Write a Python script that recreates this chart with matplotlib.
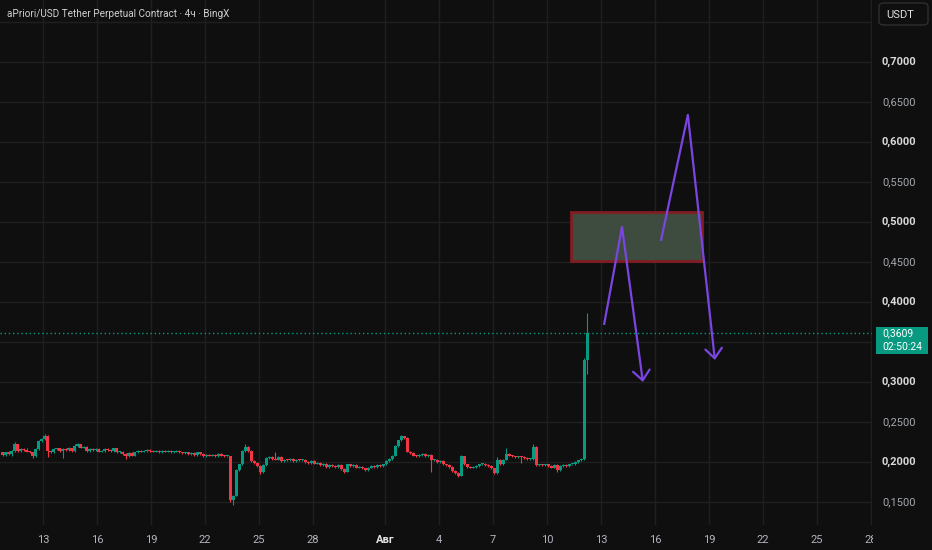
import numpy as np
import matplotlib
matplotlib.use('Agg')
import matplotlib.pyplot as plt
from matplotlib.patches import Rectangle, FancyBboxPatch

plt.rcParams['font.family'] = ['Roboto', 'DejaVu Sans']

# 4h candles, time in "July day numbers" (Aug 1 = 32)
start_day = 10.75
candle_step = 1 / 6
first_open = 0.212

closes = [
    0.209, 0.212, 0.210, 0.214, 0.222, 0.214, 0.216, 0.215, 0.213, 0.212,
    0.207, 0.216, 0.226, 0.229, 0.233, 0.214, 0.212, 0.216, 0.217, 0.214,
    0.216, 0.215, 0.217, 0.214, 0.220, 0.222, 0.218, 0.219, 0.214, 0.216,
    0.215, 0.216, 0.213, 0.214, 0.216, 0.215, 0.214, 0.217, 0.212, 0.213,
    0.210, 0.207, 0.211, 0.208, 0.212, 0.214, 0.213, 0.214, 0.215, 0.214,
    0.213, 0.214, 0.212, 0.214, 0.213, 0.214, 0.212, 0.213, 0.214, 0.212,
    0.211, 0.212, 0.210, 0.211, 0.209, 0.212, 0.210, 0.207, 0.209, 0.208,
    0.209, 0.207, 0.210, 0.208, 0.207, 0.207, 0.153, 0.158, 0.190, 0.197,
    0.214, 0.219, 0.214, 0.201, 0.199, 0.195, 0.187, 0.196, 0.205, 0.206,
    0.204, 0.203, 0.206, 0.201, 0.203, 0.202, 0.204, 0.201, 0.203, 0.202,
    0.203, 0.200, 0.199, 0.201, 0.198, 0.199, 0.196, 0.198, 0.194, 0.196,
    0.195, 0.194, 0.196, 0.191, 0.188, 0.197, 0.195, 0.196, 0.193, 0.194,
    0.192, 0.190, 0.193, 0.195, 0.194, 0.196, 0.195, 0.197, 0.201, 0.204,
    0.208, 0.220, 0.227, 0.232, 0.230, 0.213, 0.211, 0.208, 0.207, 0.209,
    0.210, 0.207, 0.209, 0.202, 0.203, 0.200, 0.201, 0.197, 0.196, 0.194,
    0.189, 0.186, 0.183, 0.207, 0.197, 0.194, 0.193, 0.194, 0.195, 0.197,
    0.198, 0.196, 0.195, 0.192, 0.186, 0.203, 0.197, 0.203, 0.210, 0.208,
    0.207, 0.206, 0.207, 0.206, 0.205, 0.204, 0.204, 0.219, 0.196, 0.197,
    0.196, 0.197, 0.195, 0.193, 0.196, 0.190, 0.195, 0.196, 0.195, 0.197,
    0.197, 0.200, 0.202, 0.204, 0.328, 0.3609,
]

# wick lengths beyond the body, in thousandths
wick_up = [
    1, 1, 2, 1, 3, 1, 1, 1, 2, 1,  1, 2, 1, 1, 2, 1, 1, 2, 1, 1,
    1, 1, 2, 1, 2, 2, 1, 1, 1, 1,  1, 1, 1, 1, 2, 1, 1, 1, 1, 1,
    1, 1, 1, 1, 1, 1, 1, 1, 1, 1,  1, 1, 1, 1, 1, 1, 1, 1, 1, 1,
    1, 1, 1, 1, 1, 1, 1, 1, 1, 1,  1, 1, 1, 1, 1, 1, 1, 1, 1, 1,
    1, 4, 1, 1, 1, 1, 1, 1, 1, 1,  1, 8, 1, 1, 1, 1, 1, 1, 1, 1,
    1, 1, 1, 1, 1, 1, 1, 1, 1, 1,  1, 1, 1, 1, 1, 1, 1, 1, 1, 1,
    1, 1, 1, 1, 1, 1, 1, 1, 1, 1,  1, 1, 1, 2, 1, 1, 1, 1, 1, 1,
    1, 1, 1, 1, 1, 1, 1, 1, 1, 1,  1, 1, 1, 2, 1, 1, 1, 1, 1, 1,
    1, 1, 1, 1, 1, 3, 1, 1, 8, 1,  1, 1, 1, 1, 1, 1, 1, 3, 1, 1,
    1, 1, 1, 1, 1, 1, 1, 1, 1, 1,  1, 1, 1, 1, 2, 25,
]
wick_dn = [
    1, 1, 1, 2, 1, 1, 1, 1, 1, 1,  2, 1, 1, 1, 1, 8, 1, 1, 1, 1,
    9, 1, 1, 1, 1, 1, 1, 1, 1, 1,  1, 1, 1, 1, 1, 1, 1, 1, 1, 1,
    1, 3, 1, 1, 1, 1, 1, 1, 1, 1,  1, 1, 1, 1, 1, 1, 1, 1, 1, 1,
    1, 1, 1, 1, 1, 1, 1, 1, 1, 1,  1, 1, 1, 1, 1, 1, 3, 7, 1, 1,
    1, 1, 1, 1, 1, 1, 2, 1, 1, 1,  1, 1, 1, 1, 1, 1, 1, 1, 1, 1,
    1, 1, 1, 1, 1, 1, 1, 1, 1, 1,  1, 1, 1, 1, 2, 1, 1, 1, 1, 1,
    1, 1, 1, 1, 1, 1, 1, 1, 1, 1,  1, 1, 1, 1, 1, 1, 1, 1, 1, 1,
    1, 1, 1, 15, 1, 1, 1, 1, 1, 1,  1, 1, 2, 1, 1, 1, 1, 1, 1, 1,
    1, 1, 1, 1, 1, 1, 1, 1, 1, 1,  1, 1, 1, 7, 1, 1, 1, 1, 1, 1,
    1, 1, 1, 1, 1, 2, 1, 1, 1, 1,  1, 1, 1, 1, 1, 18,
]

last_price = 0.3609
countdown = '02:50:24'

# drawings
zone_days = [42.33, 49.61]
zone_prices = [0.4513, 0.5125]
path1_days = [44.17, 45.17, 46.33]
path1_prices = [0.3713, 0.4938, 0.300]
path2_days = [47.33, 48.83, 50.33]
path2_prices = [0.4763, 0.6338, 0.3275]

xtick_days = [13, 16, 19, 22, 25, 28, 32, 35, 38, 41, 44, 47, 50, 53, 56, 59]
xtick_labels = ['13', '16', '19', '22', '25', '28', 'Авг', '4', '7', '10',
                '13', '16', '19', '22', '25', '28']
price_ticks = [0.15, 0.20, 0.25, 0.30, 0.35, 0.40, 0.45, 0.50, 0.55,
               0.60, 0.65, 0.70, 0.75]

BG = '#0f0f0f'
GRID = '#1f1f1f'
UP = '#089981'
DOWN = '#f23645'
PURPLE = '#7a45e0'

closes = np.array(closes)
opens = np.r_[first_open, closes[:-1]]
highs = np.maximum(opens, closes) + np.array(wick_up) / 1000
lows = np.minimum(opens, closes) - np.array(wick_dn) / 1000
t = start_day + np.arange(len(closes)) * candle_step
up = closes >= opens
colors = np.where(up, UP, DOWN)

fig = plt.figure(figsize=(9.32, 5.5), dpi=100, facecolor=BG)
W, H = 932, 550
ax = fig.add_axes([0, 25 / H, 872 / W, 525 / H])
ax.set_facecolor(BG)

ax.set_xlim(10.61, 59.06)
ax.set_ylim(0.12125, 0.7775)

for p in price_ticks:
    ax.axhline(p, color=GRID, lw=1, zorder=0)
for d in xtick_days:
    ax.axvline(d, color=GRID, lw=1, zorder=0)

# candles
ax.vlines(t, lows, highs, colors=colors, lw=0.8, zorder=2)
body = np.maximum(np.abs(closes - opens), 0.0012)
ax.bar(t, body, bottom=np.minimum(opens, closes), width=0.13,
       color=colors, lw=0, zorder=3)

# last price line
ax.axhline(last_price, color=UP, lw=1, ls=(0, (1, 2)), zorder=1)

# zone
ax.add_patch(Rectangle((zone_days[0], zone_prices[0]),
                       zone_days[1] - zone_days[0],
                       zone_prices[1] - zone_prices[0],
                       facecolor='#3d4c3e', edgecolor='#821c24', lw=2, zorder=4))

# arrows
for xs, ys in [(path1_days, path1_prices), (path2_days, path2_prices)]:
    ax.plot(xs[:2], ys[:2], color=PURPLE, lw=1.6, zorder=5,
            solid_capstyle='butt')
    ax.annotate('', xy=(xs[2], ys[2]), xytext=(xs[1], ys[1]),
                arrowprops=dict(arrowstyle='->,head_length=0.7,head_width=0.6',
                                color=PURPLE, lw=1.6, shrinkA=0, shrinkB=0),
                zorder=5)

ax.set_xticks(xtick_days)
ax.set_xticklabels(xtick_labels)
ax.set_yticks([])
ax.tick_params(axis='x', length=0, pad=7, labelsize=8, colors='#b2b5be')
for lbl in ax.get_xticklabels():
    if lbl.get_text() == 'Авг':
        lbl.set_color('#e6e6e6')
        lbl.set_fontweight('bold')
for s in ax.spines.values():
    s.set_visible(False)

# right price scale panel
fig.add_artist(Rectangle((873 / W, 0), 1 - 873 / W, 1, transform=fig.transFigure,
                         facecolor=BG, edgecolor='none', zorder=5))


def fy(price):
    pix = 525 - (price - 0.12125) / (0.7775 - 0.12125) * 525
    return 1 - pix / H


tag_lo, tag_hi = fy(last_price) - 0.03, fy(last_price) + 0.03
for p in price_ticks[:-1]:
    if tag_lo < fy(p) < tag_hi:
        continue  # hidden under the last-price tag
    major = abs(round(p * 10) - p * 10) < 1e-6
    fig.text(882 / W, fy(p), f'{p:.4f}'.replace('.', ','), fontsize=8,
             color='#d9d9d9' if major else '#a3a6ad',
             fontweight='bold' if major else 'normal',
             va='center', ha='left', zorder=6)

fig.add_artist(FancyBboxPatch((879 / W, 1 - 25 / H), 49 / W, 22 / H,
                              boxstyle='round,pad=0,rounding_size=0.006',
                              transform=fig.transFigure, facecolor=BG,
                              edgecolor='#2e2e2e', lw=1, zorder=6))
fig.text(886 / W, 1 - 14.5 / H, 'USDT', fontsize=8, color='#e0e0e0',
         va='center', ha='left', zorder=7)

fig.add_artist(Rectangle((876 / W, 1 - 354 / H), 52 / W, 27 / H,
                         transform=fig.transFigure, facecolor=UP,
                         edgecolor='none', zorder=6))
fig.text(882 / W, 1 - 333.5 / H, f'{last_price:.4f}'.replace('.', ','),
         fontsize=7.5, color='white', va='center', ha='left', zorder=7)
fig.text(882 / W, 1 - 347 / H, countdown, fontsize=7.5, color='white',
         va='center', ha='left', zorder=7)

fig.text(7 / W, 1 - 14 / H,
         'aPriori/USD Tether Perpetual Contract · 4ч · BingX',
         fontsize=7.2, color='#d0d0d0', va='center', ha='left', zorder=7)

fig.savefig('out.png', dpi=100, facecolor=BG)
